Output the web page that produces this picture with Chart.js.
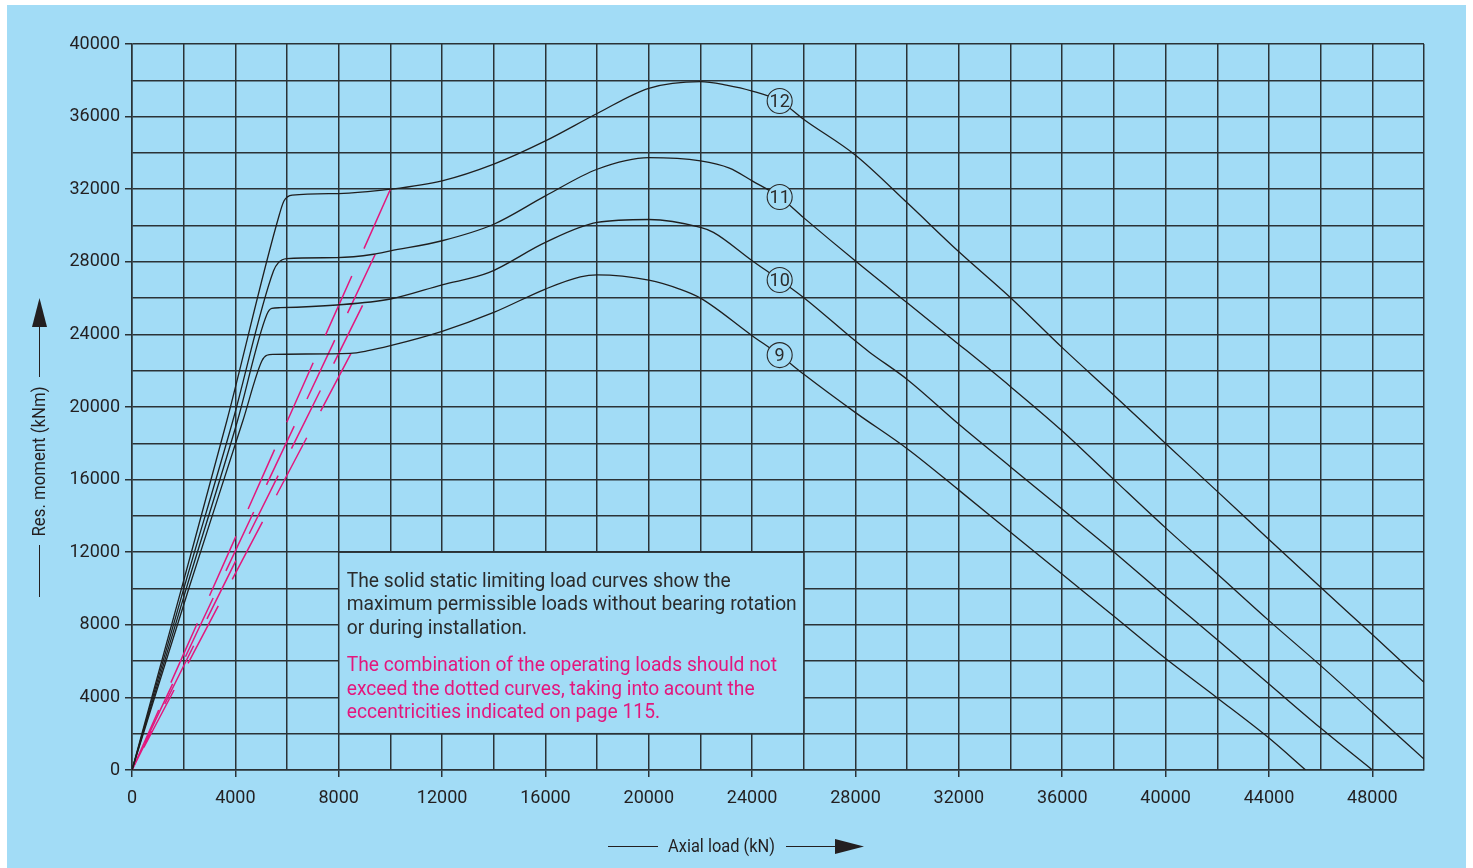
<!DOCTYPE html>
<html>
<head>
<meta charset="utf-8">
<script src="https://cdn.jsdelivr.net/npm/chart.js@4.4.1/dist/chart.umd.min.js"></script>
<style>
  html, body { margin: 0; padding: 0; background: #fff; }
  #wrap { position: absolute; left: 7px; top: 5px; width: 1459px; height: 863px; background: #a2dcf6; }
</style>
</head>
<body>
<div id="wrap"><canvas id="chart"></canvas></div>
<script>
// static limiting load curves, [axial load kN, resulting moment kNm]
const curve12 = [[0,0],[1925,10045],[3668,19230],[5707,30620],[5880,31350],[6200,31670],[8000,31760],[10000,32000],[12000,32460],[14000,33380],[16000,34660],[18000,36170],[20000,37560],[22000,37930],[23000,37740],[24000,37410],[25065,36860],[26000,35840],[28000,33870],[30000,31250],[32000,28550],[34000,26020],[36000,23270],[38000,20650],[40000,17990],[42000,15350],[44000,12700],[46000,10070],[48000,7460],[50000,4830]];
const curve11 = [[0,0],[2015,10045],[3900,19230],[5475,27495],[5668,27955],[5992,28175],[7930,28230],[9350,28415],[10000,28600],[12000,29160],[14000,30070],[16000,31630],[18000,33100],[20000,33740],[22000,33560],[23120,33160],[24000,32460],[25065,31570],[26000,30420],[28000,28040],[30000,25740],[32000,23450],[34000,21120],[36000,18680],[38000,16000],[40000,13340],[42000,10800],[44000,8230],[46000,5750],[48000,3180],[50000,600]];
const curve10 = [[0,0],[2111,10045],[4080,19230],[5218,25100],[5411,25430],[5733,25470],[7930,25620],[10000,25950],[12000,26730],[13800,27400],[16000,29070],[18000,30170],[20000,30330],[22000,29890],[22500,29620],[24000,28060],[25065,27000],[26000,26020],[28000,23630],[28540,23020],[30000,21520],[32000,19050],[34000,16700],[36000,14360],[38000,12015],[40000,9570],[42000,7180],[44000,4740],[46000,2310],[48000,0]];
const curve9 = [[0,0],[2208,10045],[4288,19230],[5024,22536],[5218,22850],[5475,22900],[8445,22960],[9092,23090],[10000,23380],[12000,24170],[14000,25210],[16000,26500],[17350,27170],[18000,27280],[20000,26990],[21190,26500],[22000,26000],[24000,23930],[25065,22860],[26000,21800],[28000,19690],[30000,17700],[32000,15420],[34000,13100],[36000,10780],[38000,8470],[40000,6140],[42000,3970],[44000,1760],[45420,0]];

// operating load limits (dashed), from curve point down to the origin
const dashed12 = [[10000,32000],[0,0]];
const dashed11 = [[9414,28415],[0,0]];
const dashed10 = [[8923,25600],[0,0]];
const dashed9 = [[8471,22940],[0,0]];

const curveNames = ['12', '11', '10', '9'];
const labelLoad = 25065;
const labelMoment = [36860, 31570, 27000, 22860];

const xTicksLabelled = [0,4000,8000,12000,16000,20000,24000,28000,32000,36000,40000,44000,48000];
const yTicksLabelled = [0,4000,8000,12000,16000,20000,24000,28000,32000,36000,40000];

const noteBlack = ['The solid static limiting load curves show the', 'maximum permissible loads without bearing rotation', 'or during installation.'];
const noteMagenta = ['The combination of the operating loads should not', 'exceed the dotted curves, taking into acount the', 'eccentricities indicated on page 115.'];
const noteLoadRange = [8000, 26000];
const noteMomentRange = [2000, 12000];

const BG = '#a2dcf6';
const INK = '#231f20';
const GRID = '#2a3236';
const MAGENTA = '#e3177d';
const FONT = 'Roboto, "Open Sans", sans-serif';

const pts = arr => arr.map(p => ({x: p[0], y: p[1]}));

function solid(data) {
  return {data: pts(data), showLine: true, borderColor: '#1f1f1f', borderWidth: 1.3,
    pointRadius: 0, cubicInterpolationMode: 'monotone', fill: false};
}
function dashed(data) {
  return {data: pts(data), showLine: true, borderColor: MAGENTA, borderWidth: 1.5,
    borderDash: [65, 30], pointRadius: 0, tension: 0, fill: false};
}

// draw text squeezed to a given width (the original face is condensed)
function fitText(ctx, text, x, y, width, align) {
  const w = ctx.measureText(text).width;
  const sx = width / w;
  ctx.save();
  ctx.translate(x, y);
  ctx.scale(sx, 1);
  ctx.textAlign = align || 'left';
  ctx.fillText(text, 0, 0);
  ctx.restore();
}

const decorations = {
  id: 'decorations',
  afterDatasetsDraw(chart) {
    const {ctx, scales: {x, y}} = chart;
    ctx.save();

    // note box
    const bx0 = x.getPixelForValue(noteLoadRange[0]);
    const bx1 = x.getPixelForValue(noteLoadRange[1]);
    const by0 = y.getPixelForValue(noteMomentRange[1]);
    const by1 = y.getPixelForValue(noteMomentRange[0]);
    ctx.fillStyle = BG;
    ctx.fillRect(bx0, by0, bx1 - bx0, by1 - by0);
    ctx.strokeStyle = GRID;
    ctx.lineWidth = 1.5;
    ctx.strokeRect(bx0, by0, bx1 - bx0, by1 - by0);

    ctx.font = '21px ' + FONT;
    ctx.textBaseline = 'alphabetic';
    const sx = 450 / ctx.measureText(noteBlack[1]).width;
    const drawLines = (lines, color, start) => {
      ctx.fillStyle = color;
      lines.forEach((t, i) => {
        ctx.save();
        ctx.translate(bx0 + 8, by0 + start + i * 23.5);
        ctx.scale(sx, 1);
        ctx.fillText(t, 0, 0);
        ctx.restore();
      });
    };
    drawLines(noteBlack, '#2b2b2b', 34.5);
    drawLines(noteMagenta, MAGENTA, 119);

    // curve numbers
    curveNames.forEach((name, i) => {
      const cx = x.getPixelForValue(labelLoad);
      const cy = y.getPixelForValue(labelMoment[i]);
      ctx.beginPath();
      ctx.arc(cx, cy, 12.5, 0, Math.PI * 2);
      ctx.fillStyle = BG;
      ctx.fill();
      ctx.strokeStyle = '#2a2a2a';
      ctx.lineWidth = 1.1;
      ctx.stroke();
      ctx.fillStyle = '#2b2b2b';
      ctx.font = '19px ' + FONT;
      ctx.textBaseline = 'middle';
      const w = ctx.measureText(name).width;
      fitText(ctx, name, cx, cy + 1, w * 0.95, 'center');
    });

    // axis titles with arrows
    ctx.fillStyle = INK;
    ctx.strokeStyle = INK;
    ctx.lineWidth = 1;
    ctx.font = '18px ' + FONT;
    ctx.textBaseline = 'middle';
    fitText(ctx, 'Axial load (kN)', 714.5, 842, 107, 'center');
    ctx.beginPath();
    ctx.moveTo(601, 841.5); ctx.lineTo(651, 841.5);
    ctx.moveTo(779, 841.5); ctx.lineTo(830, 841.5);
    ctx.stroke();
    ctx.beginPath();
    ctx.moveTo(828, 834); ctx.lineTo(857, 841.5); ctx.lineTo(828, 849); ctx.closePath();
    ctx.fill();

    ctx.save();
    ctx.translate(32, 456.5);
    ctx.rotate(-Math.PI / 2);
    fitText(ctx, 'Res. moment (kNm)', 0, 1, 150, 'center');
    ctx.restore();
    ctx.beginPath();
    ctx.moveTo(32.5, 320); ctx.lineTo(32.5, 372);
    ctx.moveTo(32.5, 540); ctx.lineTo(32.5, 592);
    ctx.stroke();
    ctx.beginPath();
    ctx.moveTo(25, 322); ctx.lineTo(32.5, 293); ctx.lineTo(40, 322); ctx.closePath();
    ctx.fill();

    ctx.restore();
  }
};

new Chart(document.getElementById('chart'), {
  type: 'scatter',
  data: {
    datasets: [
      solid(curve12), solid(curve11), solid(curve10), solid(curve9),
      dashed(dashed12), dashed(dashed11), dashed(dashed10), dashed(dashed9)
    ]
  },
  options: {
    responsive: true,
    maintainAspectRatio: false,
    animation: false,
    layout: {padding: {top: 39, right: 42, left: 0, bottom: 0}},
    plugins: {legend: {display: false}, tooltip: {enabled: false}},
    scales: {
      x: {
        type: 'linear', min: 0, max: 50000,
        afterFit: s => { s.height = 98; },
        ticks: {
          stepSize: 2000, autoSkip: false, maxRotation: 0, padding: 11,
          color: INK, font: {family: FONT, size: 18},
          callback: v => xTicksLabelled.includes(v) ? String(v) : ''
        },
        grid: {
          color: GRID, lineWidth: 1.5, tickLength: 7,
          tickColor: c => xTicksLabelled.includes(c.tick && c.tick.value) ? GRID : 'rgba(0,0,0,0)'
        },
        border: {color: GRID, width: 1.5}
      },
      y: {
        type: 'linear', min: 0, max: 40000,
        afterFit: s => { s.width = 125; },
        ticks: {
          stepSize: 2000, autoSkip: false, padding: 5,
          color: INK, font: {family: FONT, size: 18},
          callback: v => yTicksLabelled.includes(v) ? String(v) : ''
        },
        grid: {
          color: GRID, lineWidth: 1.5, tickLength: 7,
          tickColor: c => yTicksLabelled.includes(c.tick && c.tick.value) ? GRID : 'rgba(0,0,0,0)'
        },
        border: {color: GRID, width: 1.5}
      }
    }
  },
  plugins: [decorations]
});
</script>
</body>
</html>
